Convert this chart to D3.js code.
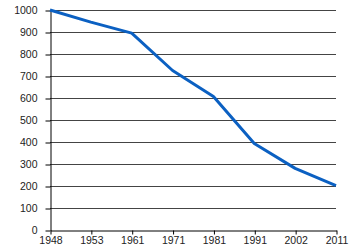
<!DOCTYPE html>
<html>
<head>
<meta charset="utf-8">
<script src="https://cdn.jsdelivr.net/npm/d3@7"></script>
<style>
  body { margin: 0; background: #fff; }
  svg text { font-family: "Liberation Sans", Arial, sans-serif; font-size: 10.5px; fill: #222; }
</style>
</head>
<body>
<div id="chart"></div>
<script>
const years = ["1948", "1953", "1961", "1971", "1981", "1991", "2002", "2011"];
const values = [1000, 945, 895, 725, 607, 393, 280, 202];
const yTicks = [0, 100, 200, 300, 400, 500, 600, 700, 800, 900, 1000];

const width = 350;
const height = 250;
const margin = {top: 10, right: 14, bottom: 20, left: 50};

const svg = d3.select("#chart")
    .append("svg")
    .attr("width", width)
    .attr("height", height);

const x = d3.scalePoint()
    .domain(years)
    .range([margin.left, width - margin.right]);

const y = d3.scaleLinear()
    .domain([0, 1000])
    .range([height - margin.bottom, margin.top]);

// grid lines
svg.append("g")
    .selectAll("line")
    .data(yTicks.slice(1))
    .join("line")
        .attr("x1", margin.left)
        .attr("x2", width - margin.right)
        .attr("y1", d => Math.round(y(d)) + 0.5)
        .attr("y2", d => Math.round(y(d)) + 0.5)
        .attr("stroke", "#444")
        .attr("stroke-width", 1);

function yAxis(g) {
    g.attr("transform", `translate(${margin.left + 0.5}, 0.5)`)
        .call(d3.axisLeft(y).tickValues(yTicks).tickFormat(d3.format("d")).tickSize(5).tickPadding(8).tickSizeOuter(0))
        .call(g => g.select(".domain").attr("stroke", "#000"))
        .call(g => g.selectAll(".tick line").attr("stroke", "#000"))
        .call(g => g.selectAll("text").attr("font-size", null).attr("font-family", null));
}

function xAxis(g) {
    g.attr("transform", `translate(0.5, ${height - margin.bottom + 0.5})`)
        .call(d3.axisBottom(x).tickSize(4).tickPadding(2).tickSizeOuter(0))
        .call(g => g.select(".domain").attr("stroke", "#000"))
        .call(g => g.selectAll(".tick line").attr("stroke", "#000"))
        .call(g => g.selectAll("text").attr("font-size", null).attr("font-family", null));
}

svg.append("g").call(xAxis);
svg.append("g").call(yAxis);

const line = d3.line()
    .x((d, i) => x(years[i]))
    .y(d => y(d));

svg.append("path")
    .datum(values)
    .attr("fill", "none")
    .attr("stroke", "#0b60c2")
    .attr("stroke-width", 3)
    .attr("stroke-linejoin", "round")
    .attr("d", line);
</script>
</body>
</html>
